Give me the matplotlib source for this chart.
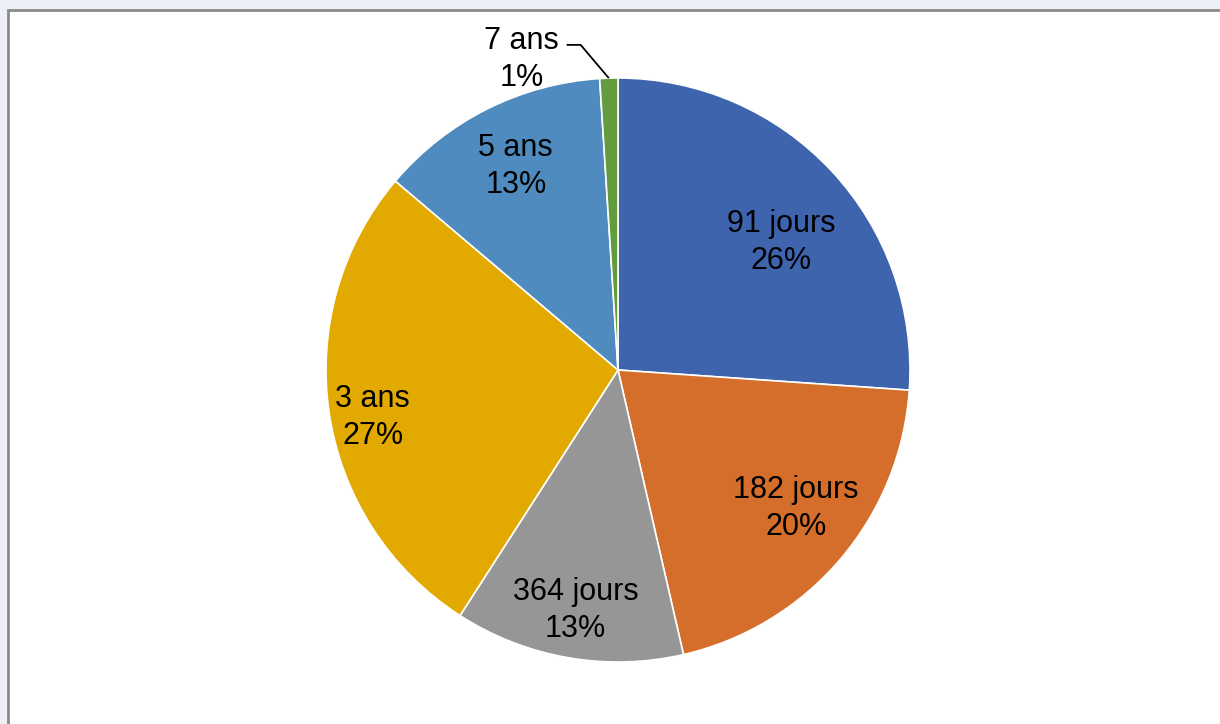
import numpy as np
import matplotlib
matplotlib.use("Agg")
import matplotlib.pyplot as plt
from matplotlib.patches import Rectangle

plt.rcParams["font.family"] = ["Liberation Sans", "DejaVu Sans"]

# Repartition par maturite
categories = ["91 jours", "182 jours", "364 jours", "3 ans", "5 ans", "7 ans"]
shares = [26.1, 20.3, 12.7, 27.1, 12.8, 1.0]
pct_labels = ["26%", "20%", "13%", "27%", "13%", "1%"]
colors = ["#3D64AD", "#D46E2A", "#969696", "#E2A900", "#4F8BBF", "#629C3E"]

W, H = 1220, 724
fig = plt.figure(figsize=(W / 100, H / 100), dpi=100)
fig.set_facecolor("#eceff6")
ax = fig.add_axes([0, 0, 1, 1])
ax.axis("off")

# chart frame
ax.add_patch(Rectangle((8, -10), W, H, facecolor="white",
                       edgecolor="#8c8c8c", linewidth=2, zorder=0))

cx, cy, R = 618, H - 370, 292
wedges, _ = ax.pie(shares, colors=colors, startangle=90, counterclock=False,
                   center=(cx, cy), radius=R,
                   wedgeprops=dict(edgecolor="white", linewidth=1.2))
ax.set_xlim(0, W)
ax.set_ylim(0, H)
ax.set_aspect("equal")

# label offsets from the pie centre, in radius units (Excel "best fit" spots)
label_dx = [0.56, 0.61, -0.145, -0.84, -0.35, -0.33]
label_dy = [0.438, -0.475, -0.825, -0.162, 0.698, 1.062]
for w, cat, pct, dx, dy in zip(wedges, categories, pct_labels, label_dx, label_dy):
    tx, ty = cx + dx * R, cy + dy * R
    ax.text(tx, ty, f"{cat}\n{pct}", ha="center", va="center",
            fontsize=22, linespacing=1.3)
    if dy > 1:
        # outside label, leader line to the slice
        mid = np.deg2rad((w.theta1 + w.theta2) / 2)
        ex, ey = cx + R * np.cos(mid), cy + R * np.sin(mid)
        ax.plot([tx + 45, tx + 59, ex], [ty + 15, ty + 15, ey], color="black",
                linewidth=1.3, solid_capstyle="butt")

fig.savefig("out.png", dpi=100)
